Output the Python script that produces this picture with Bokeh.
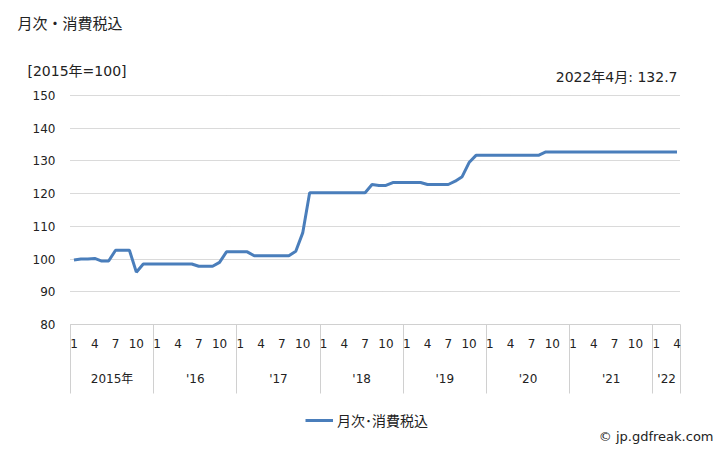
from bokeh.plotting import figure
from bokeh.models import (Range1d, FixedTicker, LinearAxis, Label, Legend, LegendItem,
                          ColumnDataSource, Grid)
from bokeh.embed import file_html
from bokeh.resources import INLINE

# ---- data ----
year_labels = ["2015年", "'16", "'17", "'18", "'19", "'20", "'21", "'22"]
months_per_year = [12, 12, 12, 12, 12, 12, 12, 4]
month_tick_labels = [1, 4, 7, 10]
y_ticks = [80, 90, 100, 110, 120, 130, 140, 150]

v2015 = [99.7, 100.0, 100.0, 100.2, 99.4, 99.4, 102.7, 102.7, 102.7, 96.0, 98.5, 98.5]
v2016 = [98.5, 98.5, 98.5, 98.5, 98.5, 98.5, 97.8, 97.8, 97.8, 99.0, 102.2, 102.2]
v2017 = [102.2, 102.2, 101.0, 101.0, 101.0, 101.0, 101.0, 101.0, 102.4, 108.0, 120.3, 120.3]
v2018 = [120.3, 120.3, 120.3, 120.3, 120.3, 120.3, 120.3, 122.8, 122.5, 122.5, 123.4, 123.4]
v2019 = [123.4, 123.4, 123.4, 122.8, 122.8, 122.8, 122.8, 123.8, 125.2, 129.5, 131.7, 131.7]
v2020 = [131.7, 131.7, 131.7, 131.7, 131.7, 131.7, 131.7, 131.7, 132.7, 132.7, 132.7, 132.7]
v2021 = [132.7, 132.7, 132.7, 132.7, 132.7, 132.7, 132.7, 132.7, 132.7, 132.7, 132.7, 132.7]
v2022 = [132.7, 132.7, 132.7, 132.7]

series_name = "月次･消費税込"
title_text = "月次・消費税込"
unit_text = "[2015年=100]"
last_text = "2022年4月: 132.7"
credit_text = "© jp.gdfreak.com"

# ---- build ----
values = v2015 + v2016 + v2017 + v2018 + v2019 + v2020 + v2021 + v2022
xs = list(range(len(values)))
n = len(values)

month_ticks = []
month_overrides = {}
year_centers = []
year_overrides = {}
boundaries = [-0.5]
start = 0
for yl, cnt in zip(year_labels, months_per_year):
    for m in range(1, cnt + 1):
        if m in month_tick_labels:
            idx = start + m - 1
            month_ticks.append(idx)
            month_overrides[idx] = str(m)
    c = start + (cnt - 1) / 2
    year_centers.append(c)
    year_overrides[c] = yl
    start += cnt
    boundaries.append(start - 0.5)

FONT = "DejaVu Sans, Noto Sans CJK JP"
CJK = "Noto Sans CJK JP"
GRID = "#b4b4b4"
SEPC = "#d0d0d0"
TXT = "#222222"

# page size and the plotting area inside it (pixels)
W, H = 728, 450
PL, PR, PT, PB = 70, 680, 95, 324
X0, X1 = -0.5, n - 0.5
Y0, Y1 = y_ticks[0], y_ticks[-1]
kx = (X1 - X0) / (PR - PL)
ky = (Y1 - Y0) / (PB - PT)

def to_data(cx, cy):
    return X0 + (cx - PL) * kx, Y0 + (PB - cy) * ky

xa, ya = to_data(0, H)
xb, yb = to_data(W, 0)

p = figure(width=W, height=H, output_backend="svg", toolbar_location=None,
           x_range=Range1d(xa, xb), y_range=Range1d(ya, yb),
           min_border_left=0, min_border_right=0, min_border_top=0,
           min_border_bottom=0, x_axis_type=None, y_axis_type=None)
p.outline_line_color = None
p.background_fill_color = "white"
p.border_fill_color = "white"

# y axis
yaxis = LinearAxis(ticker=FixedTicker(ticks=y_ticks), fixed_location=X0, bounds=(Y0, Y1))
yaxis.axis_line_color = None
yaxis.major_tick_line_color = None
yaxis.major_tick_out = 0
yaxis.major_tick_in = 0
yaxis.minor_tick_line_color = None
yaxis.minor_tick_out = 0
yaxis.major_label_standoff = 15
yaxis.major_label_text_font = FONT
yaxis.major_label_text_font_size = "12px"
yaxis.major_label_text_color = TXT
p.add_layout(yaxis, "left")

# month axis (minor ticks draw the year separators)
SEP = 69
maxis = LinearAxis(ticker=FixedTicker(ticks=month_ticks, minor_ticks=boundaries),
                   fixed_location=Y0, bounds=(X0, X1))
maxis.major_label_overrides = month_overrides
maxis.axis_line_color = SEPC
maxis.major_tick_line_color = None
maxis.major_tick_out = 0
maxis.major_tick_in = 0
maxis.minor_tick_line_color = SEPC
maxis.minor_tick_in = 0
maxis.minor_tick_out = SEP
maxis.major_label_standoff = 14 - SEP
maxis.major_label_text_font = FONT
maxis.major_label_text_font_size = "12px"
maxis.major_label_text_color = TXT
p.add_layout(maxis, "below")

# year axis
yraxis = LinearAxis(ticker=FixedTicker(ticks=year_centers), fixed_location=Y0,
                    bounds=(X0, X1))
yraxis.major_label_overrides = year_overrides
yraxis.axis_line_color = None
yraxis.major_tick_line_color = None
yraxis.major_tick_out = 0
yraxis.major_tick_in = 0
yraxis.minor_tick_line_color = None
yraxis.minor_tick_out = 0
yraxis.major_label_standoff = 47
yraxis.major_label_text_font = FONT
yraxis.major_label_text_font_size = "12px"
yraxis.major_label_text_color = TXT
p.add_layout(yraxis, "below")

# horizontal grid lines, limited to the plotting area
if "cross_bounds" in Grid.properties():
    grid = Grid(dimension=1, ticker=yaxis.ticker, cross_bounds=(X0, X1))
    grid.grid_line_color = GRID
    grid.grid_line_width = 1
    grid.grid_line_dash = "1 1"
    p.add_layout(grid)
else:
    gsrc = ColumnDataSource(dict(x0=[X0] * len(y_ticks), x1=[X1] * len(y_ticks),
                                 y=y_ticks))
    p.segment("x0", "y", "x1", "y", source=gsrc, line_color=GRID, line_width=1,
              line_dash="1 1")

src = ColumnDataSource(dict(x=xs, y=values))
r = p.line("x", "y", source=src, line_color="#4a7ebb", line_width=3)

legend = Legend(items=[LegendItem(label=series_name, renderers=[r])],
                location=(305, H - 430), orientation="horizontal",
                padding=0, margin=0, glyph_width=28, glyph_height=20,
                label_height=20, label_standoff=4,
                label_text_font=CJK, label_text_font_size="14px",
                label_text_color=TXT, border_line_color=None,
                background_fill_alpha=0)
p.add_layout(legend)

def lab(text, cx, cy, size, align="left", font=FONT):
    x, y = to_data(cx, cy)
    p.add_layout(Label(x=x, y=y, text=text,
                       text_font=font, text_font_size=size, text_color=TXT,
                       text_align=align, text_baseline="middle"))

lab(title_text, 17, 22, "15px", font=CJK)
lab(unit_text, 27, 70, "14px")
lab(last_text, 677, 76, "14px", align="right")
lab(credit_text, 713, 436, "13px", align="right")

open("out.html", "w").write(file_html(p, INLINE))
